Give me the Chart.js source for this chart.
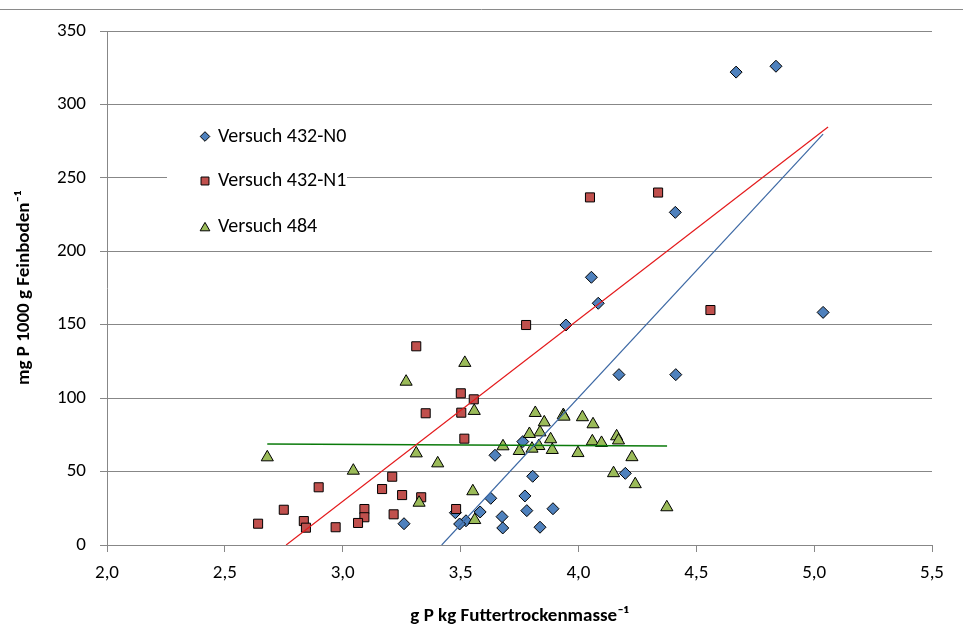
<!DOCTYPE html>
<html>
<head>
<meta charset="utf-8">
<script src="https://cdn.jsdelivr.net/npm/chart.js@4/dist/chart.umd.min.js"></script>
<style>
html,body{margin:0;padding:0;background:#fff;}
#wrap{width:963px;height:641px;position:relative;}
</style>
</head>
<body>
<div id="wrap"><canvas id="c" width="963" height="641"></canvas></div>
<script>
// ---- data ----
const seriesNames = ['Versuch 432-N0', 'Versuch 432-N1', 'Versuch 484'];

const n0X = [4.669, 4.838, 4.411, 4.055, 4.084, 3.947, 5.038, 4.172, 4.413, 3.764, 3.646, 3.806, 4.199, 3.628, 3.773, 3.781, 3.892, 3.478, 3.583, 3.523, 3.496, 3.676, 3.679, 3.837, 3.260];
const n0Y = [322, 326, 226.5, 182.3, 164.6, 149.8, 158.4, 116, 116, 70.4, 61.1, 46.8, 48.8, 31.8, 33.4, 23.4, 24.7, 22.0, 22.5, 16.5, 14.3, 19.3, 11.6, 12.1, 14.5];

const n1X = [4.049, 4.338, 4.560, 3.778, 3.312, 3.501, 3.556, 3.503, 3.352, 3.516, 3.210, 2.898, 3.167, 3.252, 3.333, 2.750, 3.092, 3.092, 3.216, 2.641, 2.835, 2.844, 2.970, 3.065, 3.481];
const n1Y = [236.7, 240, 160, 149.8, 135.3, 103.3, 99.2, 90.1, 89.7, 72.4, 46.5, 39.3, 38.1, 34.0, 32.5, 24.0, 24.5, 18.9, 20.9, 14.5, 16.3, 11.8, 12.1, 15.0, 24.5];

const v484X = [3.518, 3.269, 3.558, 3.817, 3.936, 3.939, 4.017, 3.855, 4.062, 3.837, 3.792, 3.882, 4.059, 4.098, 4.162, 4.170, 3.680, 3.832, 3.803, 3.749, 3.889, 3.998, 4.227, 3.403, 4.149, 4.241, 4.375, 3.552, 3.560, 3.324, 3.312, 2.680, 3.045];
const v484Y = [124, 111.2, 91.3, 89.9, 88.5, 87.4, 87.0, 83.5, 82.2, 76.7, 75.6, 72.0, 70.6, 69.5, 74.0, 71.2, 67.2, 67.4, 65.6, 64.0, 64.7, 62.6, 59.8, 55.6, 48.9, 41.4, 25.7, 36.6, 17.0, 28.8, 62.4, 59.7, 50.6];

// linear trend lines (end points)
const trendN0X = [3.42, 5.038];
const trendN0Y = [0, 279.8];
const trendN1X = [2.76, 5.059];
const trendN1Y = [0, 284.6];
const trend484X = [2.680, 4.376];
const trend484Y = [68.8, 67.4];

const xTickLabels = ['2,0', '2,5', '3,0', '3,5', '4,0', '4,5', '5,0', '5,5'];
const xTitle = 'g P kg Futtertrockenmasse\u207B\u00B9';
const yTitle = 'mg P 1000 g Feinboden\u207B\u00B9';

// ---- chart ----
const FONT = 'Carlito, Lato, "Liberation Sans", sans-serif';
const GRID = '#878787';
const toPts = (xs, ys) => xs.map((x, i) => ({ x: x, y: ys[i] }));

const decor = {
  id: 'decor',
  beforeDraw(chart) {
    const ctx = chart.ctx;
    ctx.save();
    ctx.strokeStyle = '#8a8a8a';
    ctx.lineWidth = 1;
    ctx.beginPath();
    ctx.moveTo(0, 9.5);
    ctx.lineTo(chart.width, 9.5);
    ctx.stroke();
    ctx.restore();
  },
  beforeDatasetsDraw(chart) {
    const ctx = chart.ctx;
    ctx.save();
    ctx.fillStyle = '#ffffff';
    ctx.fillRect(167, 112, 180, 136);
    const rows = [136.5, 181, 227];
    const radii = [4.8, 5.6, 5.6];
    const pts = chart.data.datasets.filter(d => !d.isTrend);
    pts.forEach((ds, i) => {
      ctx.fillStyle = ds.backgroundColor;
      ctx.strokeStyle = ds.borderColor;
      ctx.lineWidth = 1;
      Chart.helpers.drawPoint(ctx, { pointStyle: ds.pointStyle, radius: radii[i], rotation: 0, borderWidth: 1 }, 205, rows[i] + (ds.pointStyle === 'triangle' ? 1 : 0));
      ctx.fillStyle = '#000';
      ctx.font = '20px ' + FONT;
      ctx.textBaseline = 'middle';
      ctx.textAlign = 'left';
      ctx.fillText(ds.label, 218, rows[i]);
    });
    ctx.restore();
  }
};

new Chart(document.getElementById('c'), {
  type: 'scatter',
  data: {
    datasets: [
      { label: 'Trend ' + seriesNames[1], isTrend: true, data: toPts(trendN1X, trendN1Y), showLine: true, borderColor: '#e41a1c', borderWidth: 1.2, pointRadius: 0, order: 0 },
      { label: 'Trend ' + seriesNames[0], isTrend: true, data: toPts(trendN0X, trendN0Y), showLine: true, borderColor: '#3c68a4', borderWidth: 1.2, pointRadius: 0, order: 0 },
      { label: 'Trend ' + seriesNames[2], isTrend: true, data: toPts(trend484X, trend484Y), showLine: true, borderColor: '#0a7a0a', borderWidth: 1.4, pointRadius: 0, order: 0 },
      { label: seriesNames[0], data: toPts(n0X, n0Y), pointStyle: 'rectRot', pointRadius: 6, backgroundColor: '#4F81BD', borderColor: '#000', borderWidth: 1, order: 3 },
      { label: seriesNames[1], data: toPts(n1X, n1Y), pointStyle: 'rect', pointRadius: 6.4, backgroundColor: '#C0504D', borderColor: '#000', borderWidth: 1, order: 2 },
      { label: seriesNames[2], data: toPts(v484X, v484Y), pointStyle: 'triangle', pointRadius: 7, backgroundColor: '#9BBB59', borderColor: '#000', borderWidth: 1, order: 1 }
    ]
  },
  options: {
    responsive: false,
    animation: false,
    devicePixelRatio: 1,
    layout: { padding: { top: 31, right: 31, left: 0, bottom: 0 } },
    plugins: { legend: { display: false }, tooltip: { enabled: false } },
    elements: { point: { hoverRadius: 6 } },
    scales: {
      x: {
        type: 'linear',
        min: 2, max: 5.5,
        afterFit: s => { s.height = 96; },
        ticks: {
          stepSize: 0.5,
          color: '#000',
          font: { family: FONT, size: 19 },
          padding: 10,
          maxRotation: 0,
          callback: (v, i) => xTickLabels[i]
        },
        grid: { drawOnChartArea: false, drawTicks: true, tickLength: 7, color: GRID },
        border: { color: GRID, width: 1 },
        title: { display: true, text: xTitle, color: '#000', font: { family: FONT, size: 19, weight: 'bold' }, padding: { top: 0, bottom: 13 } }
      },
      y: {
        type: 'linear',
        min: 0, max: 350,
        afterFit: s => { s.width = 107; },
        ticks: {
          stepSize: 50,
          color: '#000',
          font: { family: FONT, size: 19 },
          padding: 14
        },
        grid: { color: GRID, tickLength: 7 },
        border: { color: GRID, width: 1 },
        title: { display: true, text: yTitle, color: '#000', font: { family: FONT, size: 19, weight: 'bold' }, padding: { top: 13, bottom: 0 } }
      }
    }
  },
  plugins: [decor]
});
</script>
</body>
</html>
